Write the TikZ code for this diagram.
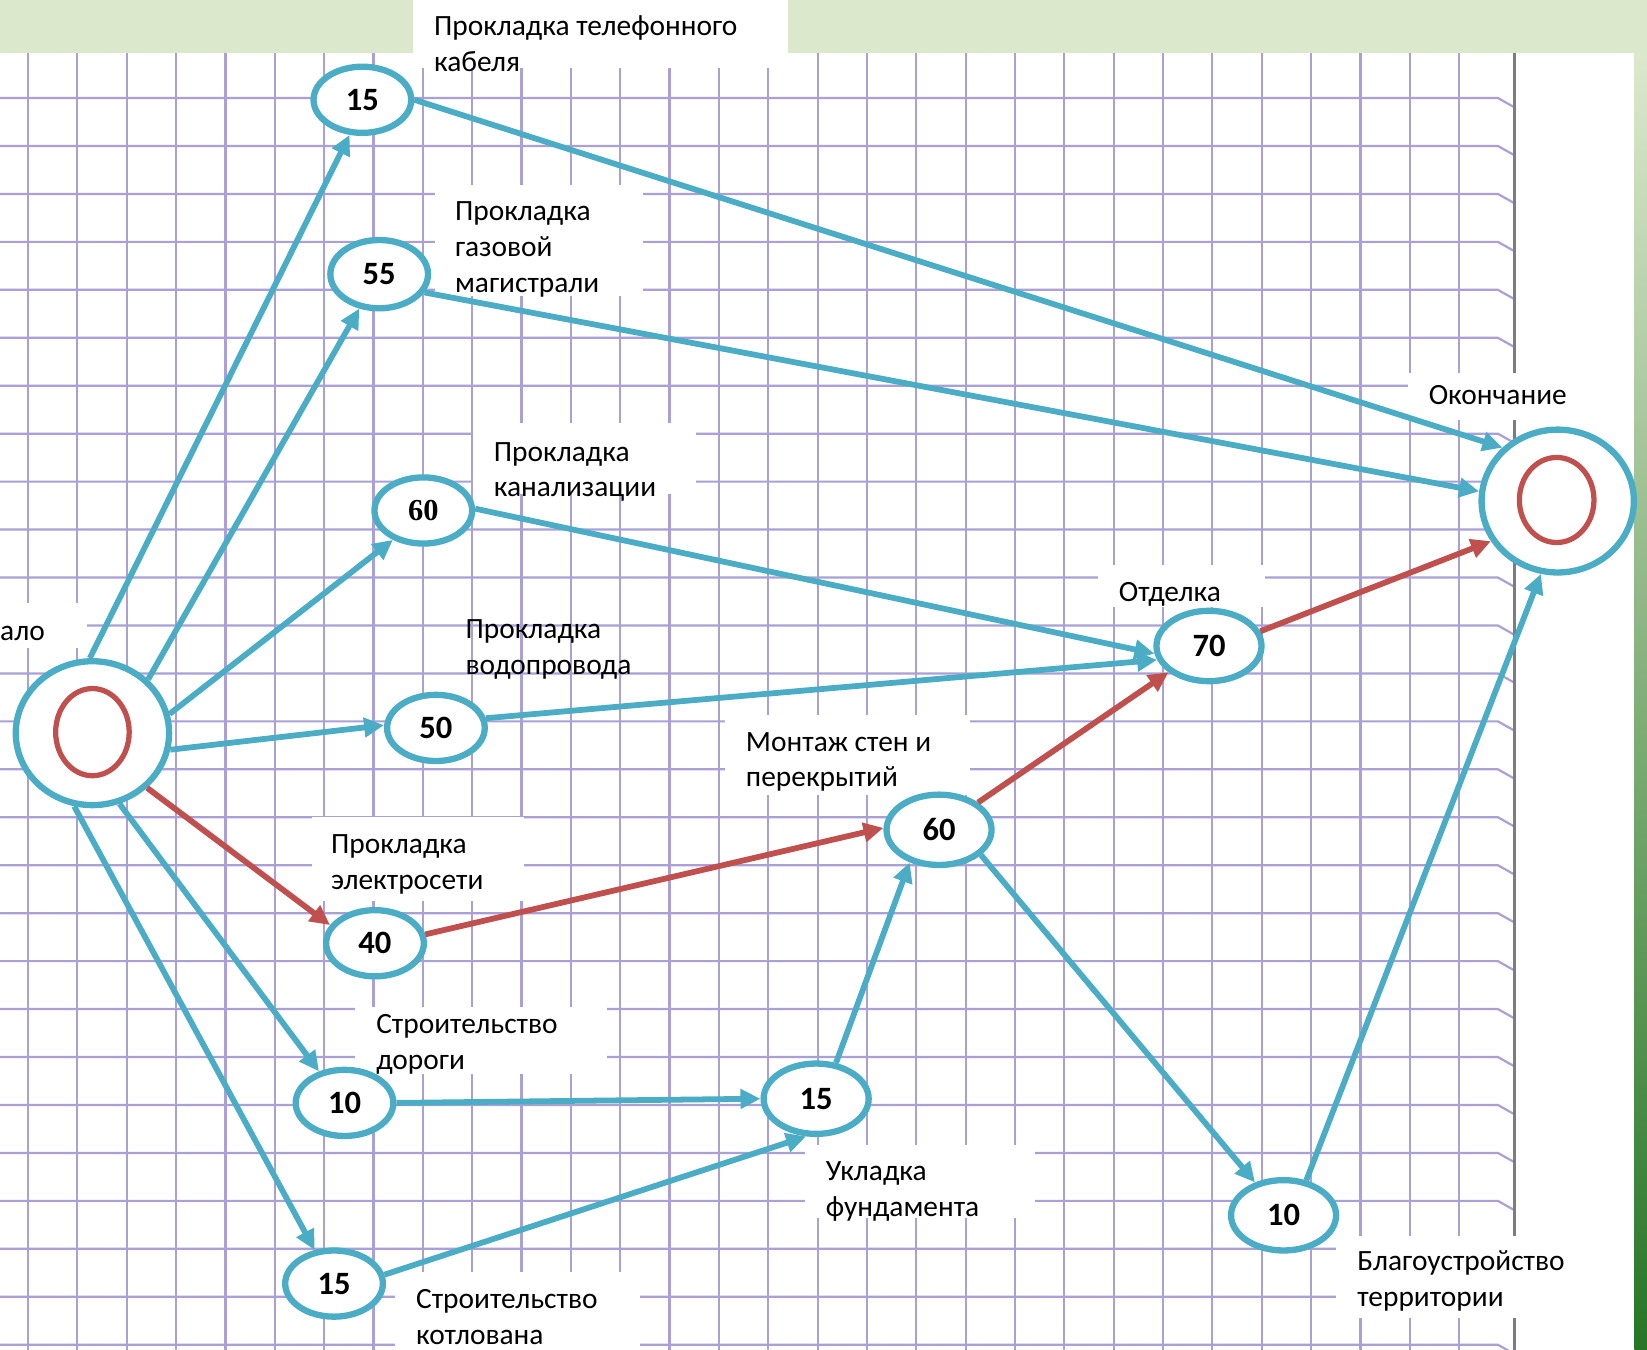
\documentclass[tikz,border=0pt]{standalone}
\usepackage{fontspec}
\setmainfont{Carlito}
\newfontfamily\timesf{Liberation Serif}
\usetikzlibrary{shapes.geometric,arrows.meta}
\definecolor{aqua}{HTML}{4BACC6}
\definecolor{brick}{HTML}{C0504D}
\definecolor{gridc}{RGB}{170,160,215}
\definecolor{bandc}{RGB}{220,232,203}
\definecolor{greenmid}{RGB}{150,185,105}
\definecolor{greendark}{RGB}{38,118,38}
\definecolor{borderc}{RGB}{125,125,125}
\tikzset{
  ev/.style={ellipse, draw=aqua, line width=6pt, fill=white, minimum width=93pt,
    minimum height=63pt, inner sep=0pt, font=\fontsize{31}{33}\selectfont\bfseries},
  evb/.style={ev, minimum width=100pt, minimum height=67pt},
  bigev/.style={ellipse, draw=aqua, line width=6pt, fill=white, inner sep=0pt},
  redev/.style={ellipse, draw=brick, line width=5pt, inner sep=0pt},
  bl/.style={draw=aqua, line width=5.5pt, -{Triangle[length=19pt,width=18pt]}},
  rd/.style={draw=brick, line width=5.5pt, -{Triangle[length=19pt,width=18pt]}},
  lbl/.style={anchor=base west, inner sep=0pt, font=\fontsize{28}{34}\selectfont},
  wbox/.style={fill=white},
  gridl/.style={draw=gridc, line width=2.1pt},
}
\newcommand{\twol}[2]{\begin{tabular}[t]{@{}l@{}}#1\\#2\end{tabular}}
\begin{document}
\begin{tikzpicture}[x=1pt,y=-1pt]
\useasboundingbox (0,0) rectangle (1568,1285);
\clip (0,0) rectangle (1568,1285);
% paper
\fill[white] (0,0) rectangle (1568,1285);
% grid
\foreach \k in {0,...,29} \draw[gridl] ({26.7+46.98*\k},50) -- ({26.7+46.98*\k},1285);
\foreach \k in {0,...,26} \draw[gridl] (0,{93.3+45.65*\k}) -- (1426,{93.3+45.65*\k}) -- (1442,{93.3+45.65*\k+9});
\draw[borderc, line width=3pt] (1442,50) -- (1442,1285);
% band and right strip
\fill[bandc] (0,0) rectangle (1568,50);
\shade[top color=bandc, middle color=greenmid, bottom color=greendark] (1556,50) rectangle (1568,1285);
% white label boxes
\fill[wbox] (393,0) rectangle (750,65);
\fill[wbox] (414,176) rectangle (612,282);
\fill[wbox] (450,403) rectangle (663,470);
\fill[wbox] (690,681) rectangle (923,757);
\fill[wbox] (297,778) rectangle (499,858);
\fill[wbox] (338,959) rectangle (578,1022);
\fill[wbox] (766,1090) rectangle (985,1160);
\fill[wbox] (1272,1177) rectangle (1520,1255);
\fill[wbox] (376,1211) rectangle (609,1285);
\fill[wbox] (1045,538) rectangle (1204,578);
\fill[wbox] (1340,355) rectangle (1500,400);
\fill[wbox] (0,574) rectangle (83,617);
% event nodes
\node[bigev, minimum width=146pt, minimum height=137pt] (st) at (88,698) {};
\node[redev, minimum width=70pt, minimum height=83pt] (sti) at (88,697) {};
\node[bigev, minimum width=145pt, minimum height=136pt] (en) at (1483,477) {};
\node[redev, minimum width=71pt, minimum height=81pt] (eni) at (1482,476) {};
\node[ev] (t15) at (345,95) {15};
\node[ev, minimum height=65pt] (g55) at (361,261) {55};
\node[ev, font=\fontsize{29}{31}\selectfont\timesf\bfseries] (k60) at (403,486) {60};
\node[ev] (w50) at (415,693) {50};
\node[ev] (e40) at (357,898) {40};
\node[ev] (d10) at (328,1050) {10};
\node[ev] (k15) at (318,1222) {15};
\node[evb] (f15) at (777,1046) {15};
\node[evb] (m60) at (894,790) {60};
\node[evb] (o70) at (1151,615) {70};
\node[evb] (b10) at (1222,1157) {10};
% connectors
\draw[bl] (st.92) -- (t15.250);
\draw[bl] (st.44) -- (g55.240);
\draw[bl] (st.14) -- (k60.224);
\draw[bl] (st.-12) -- (w50.177);
\draw[rd] (st.-45) -- (e40.158);
\draw[bl] (st.-69) -- (d10.129);
\draw[bl] (st.-104) -- (k15.120);
\draw[bl] (t15.0) -- (en.136);
\draw[bl] (g55.-22) -- (en.173);
\draw[bl] (k60.2) -- (o70.188);
\draw[bl] (w50.11) -- (o70.195);
\draw[rd] (e40.10) -- (m60.178);
\draw[bl] (d10.0) -- (f15.180);
\draw[bl] (k15.10) -- (f15.255);
\draw[bl] (f15.61) -- (m60.228);
\draw[bl] (m60.-31) -- (b10.131);
\draw[rd] (m60.35) -- (o70.213);
\draw[rd] (o70.16) -- (en.211);
\draw[bl] (b10.57) -- (en.257);
% labels
\node[lbl] (lnach) at (0,610) {ало};
\node[lbl] (ltel) at (413,34) {\twol{Прокладка телефонного}{кабеля}};
\node[lbl] (lgas) at (433,210) {\begin{tabular}[t]{@{}l@{}}Прокладка\\газовой\\магистрали\end{tabular}};
\node[lbl] (lkan) at (470,439) {\twol{Прокладка}{канализации}};
\node[lbl] (lvod) at (443,608) {\twol{Прокладка}{водопровода}};
\node[lbl] (lotd) at (1065,573) {Отделка};
\node[lbl] (lokon) at (1360,385) {Окончание};
\node[lbl] (lmont) at (710,715) {\twol{Монтаж стен и}{перекрытий}};
\node[lbl] (lel) at (315,813) {\twol{Прокладка}{электросети}};
\node[lbl] (ldor) at (358,984) {\twol{Строительство}{дороги}};
\node[lbl] (lukl) at (786,1124) {\twol{Укладка}{фундамента}};
\node[lbl] (lblag) at (1292,1210) {\twol{Благоустройство}{территории}};
\node[lbl] (lkotl) at (396,1246) {\twol{Строительство}{котлована}};
\end{tikzpicture}
\end{document}
